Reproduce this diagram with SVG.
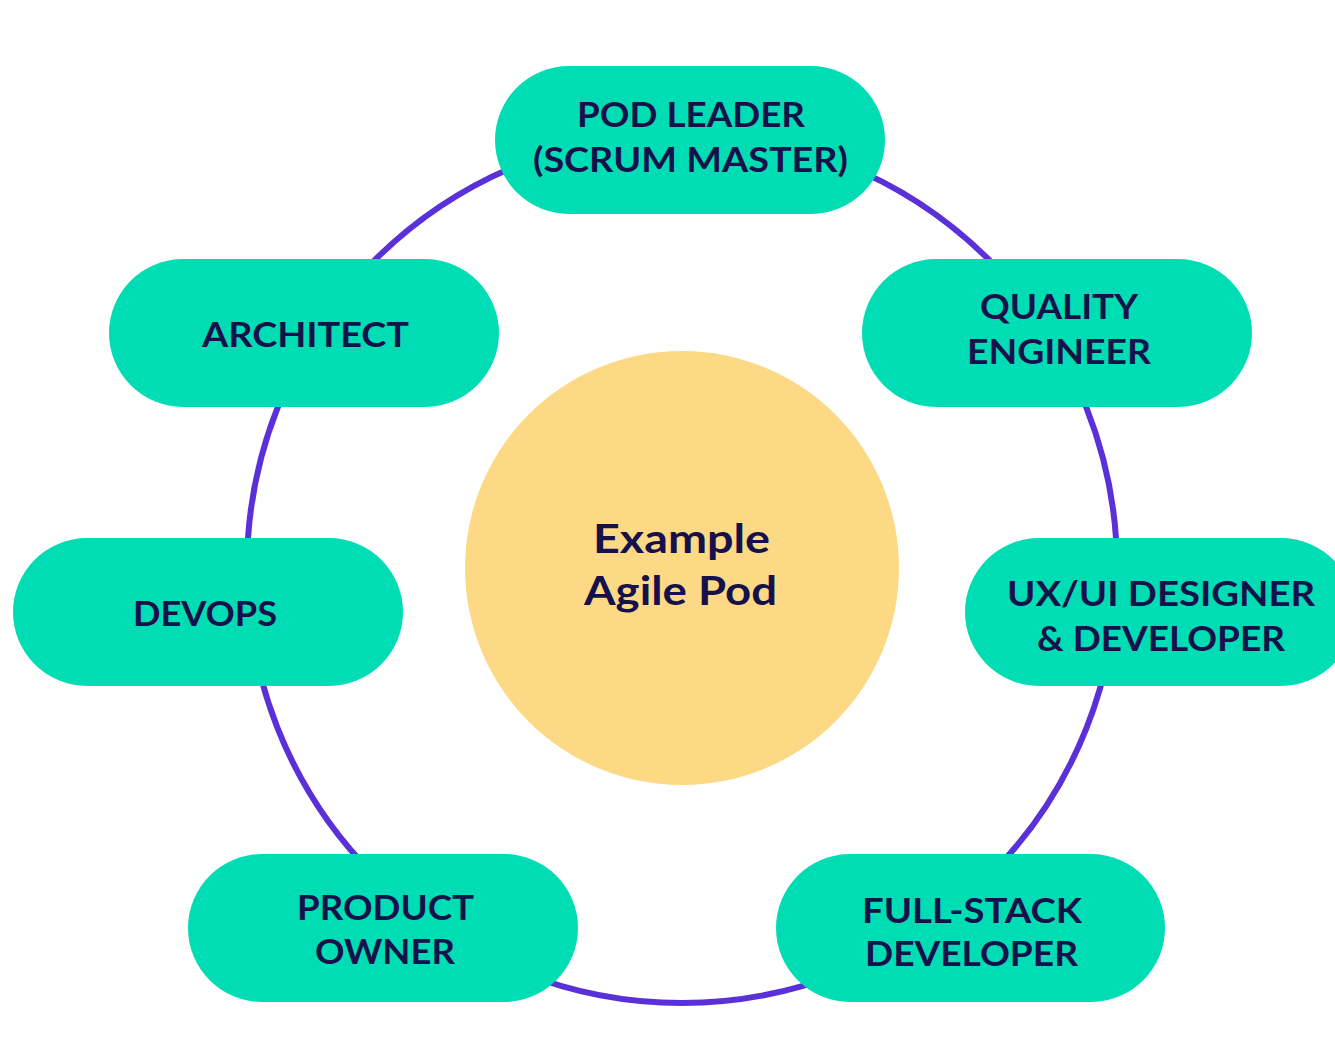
<svg xmlns="http://www.w3.org/2000/svg" width="1335" height="1055" viewBox="0 0 1335 1055">
<style>
.pill{fill:#00ddb4}
.lbl{font-family:Lato,"Open Sans","Liberation Sans",sans-serif;font-weight:700;font-size:35px;fill:#15114a}
.ctr{font-family:Lato,"Open Sans","Liberation Sans",sans-serif;font-weight:700;font-size:41px;fill:#15114a}
</style>
<rect width="1335" height="1055" fill="#ffffff"/>
<g id="connectors">
<circle cx="682" cy="568" r="435" fill="none" stroke="#5a30d8" stroke-width="6"/>
</g>
<g id="pod-leader">
<rect class="pill" x="495" y="66" width="390" height="148" rx="74"/>
<text class="lbl" x="577" y="127" textLength="228" lengthAdjust="spacingAndGlyphs">POD LEADER</text>
<text class="lbl" x="533" y="172" textLength="315" lengthAdjust="spacingAndGlyphs">(SCRUM MASTER)</text>
</g>
<g id="architect">
<rect class="pill" x="109" y="259" width="390" height="148" rx="74"/>
<text class="lbl" x="202" y="347" textLength="207" lengthAdjust="spacingAndGlyphs">ARCHITECT</text>
</g>
<g id="quality-engineer">
<rect class="pill" x="862" y="259" width="390" height="148" rx="74"/>
<text class="lbl" x="980" y="319" textLength="158" lengthAdjust="spacingAndGlyphs">QUALITY</text>
<text class="lbl" x="967" y="364" textLength="184" lengthAdjust="spacingAndGlyphs">ENGINEER</text>
</g>
<g id="devops">
<rect class="pill" x="13" y="538" width="390" height="148" rx="74"/>
<text class="lbl" x="133" y="626" textLength="144" lengthAdjust="spacingAndGlyphs">DEVOPS</text>
</g>
<g id="ux-ui">
<rect class="pill" x="965" y="538" width="390" height="148" rx="74"/>
<text class="lbl" x="1007" y="606" textLength="308" lengthAdjust="spacingAndGlyphs">UX/UI DESIGNER</text>
<text class="lbl" x="1037" y="651" textLength="248" lengthAdjust="spacingAndGlyphs">&amp; DEVELOPER</text>
</g>
<g id="product-owner">
<rect class="pill" x="188" y="854" width="390" height="148" rx="74"/>
<text class="lbl" x="297" y="920" textLength="177" lengthAdjust="spacingAndGlyphs">PRODUCT</text>
<text class="lbl" x="315" y="964" textLength="140" lengthAdjust="spacingAndGlyphs">OWNER</text>
</g>
<g id="full-stack">
<rect class="pill" x="776" y="854" width="389" height="148" rx="74"/>
<text class="lbl" x="862" y="923" textLength="220" lengthAdjust="spacingAndGlyphs">FULL-STACK</text>
<text class="lbl" x="865" y="966" textLength="213" lengthAdjust="spacingAndGlyphs">DEVELOPER</text>
</g>
<g id="center">
<circle cx="682" cy="568" r="217" fill="#fdd985"/>
<text class="ctr" x="593" y="553" textLength="177" lengthAdjust="spacingAndGlyphs">Example</text>
<text class="ctr" x="584" y="605" textLength="193" lengthAdjust="spacingAndGlyphs">Agile Pod</text>
</g>
</svg>
